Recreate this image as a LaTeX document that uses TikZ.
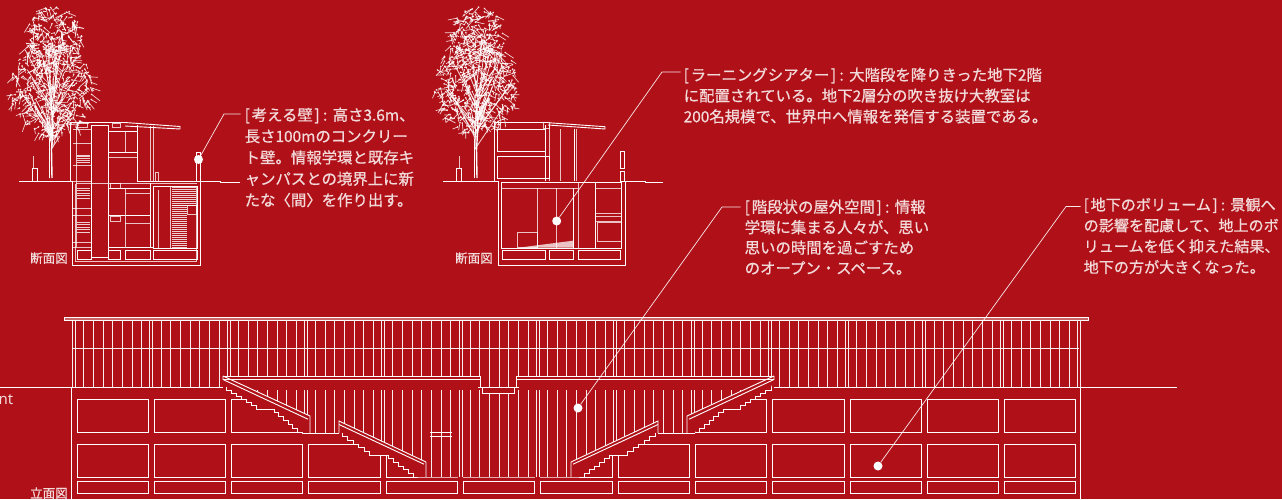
\documentclass[tikz,border=0pt]{standalone}
\usepackage{fontspec}
\newfontfamily\jp{Noto Sans CJK JP}[UprightFeatures={FakeBold=0.7}]
\newfontfamily\latinsans{Noto Sans}
\definecolor{bgred}{RGB}{176,17,24}
\definecolor{txt}{RGB}{242,218,219}

% bracketed heading of a note
\newcommand\opb{[\hspace{0.12em}}
\newcommand\clb{\hspace{0.1em}]\hspace{0.22em}:\hspace{0.35em}}

% stepped underside of a stair flight: from (#1,#2) to (#3,#4) in #5 steps
\newcommand\stairpath[5]{%
  \pgfmathsetmacro\stdx{(#3-#1)/#5}%
  \pgfmathsetmacro\stdy{(#4-#2)/#5}%
  \draw[wl] (#1,#2) \foreach \q in {1,...,#5}{ -- ++(0,\stdy) -- ++(\stdx,0) };}

% mullions of the curtain wall between heights #1 and #2
\newcommand\mullions[2]{%
  \foreach \k in {0,...,12}{\foreach \j in {1,...,7}{%
    \draw[mull] ({74+77.3*\k+9.66*\j},#1) -- ({74+77.3*\k+9.66*\j},#2);}}%
  \foreach \k in {0,...,13}{%
    \draw[mull] ({74+77.3*\k-1.5},#1) -- ({74+77.3*\k-1.5},#2)
                ({74+77.3*\k+1.5},#1) -- ({74+77.3*\k+1.5},#2);}}

% one half of the sunken court: deck and two stair flights
\newcommand\halfcourt{%
  \draw[wl] (223,376) -- (480.5,376) -- (480.5,387.3);
  \draw[wl] (223,379.5) -- (480.5,379.5);
  % upper flight
  \draw[wl] (223,376) -- (310,416) -- (310,433);
  \draw[wl] (223,376) -- (223,379.5) -- (308,419.2);
  \stairpath{226}{387}{262}{409}{7}
  \draw[wl] (262,409) -- (274,409);
  \stairpath{274}{409}{302}{432}{6}
  \draw[wl] (302,433) -- (339,433);
  % lower flight
  \draw[wl] (339,433) -- (339,421) -- (426,462) -- (426,477);
  \draw[wl] (339,424.5) -- (424,464.2);
  \stairpath{342}{433}{375}{455}{6}
  \draw[wl] (375,455) -- (388,455);
  \stairpath{388}{455}{418}{477}{6}
}

% scribbled crown of a tree
\newcommand\treecrown[5]{%
  \foreach \i in {1,...,#5}{%
    \pgfmathsetmacro\twr{sqrt(rnd)}%
    \pgfmathsetmacro\twt{rnd*360}%
    \pgfmathsetmacro\twx{#1+#3*\twr*cos(\twt)}%
    \pgfmathsetmacro\twy{#2+#4*\twr*sin(\twt)}%
    \pgfmathsetmacro\twa{rnd*180}%
    \pgfmathsetmacro\twl{2+rnd*9}%
    \draw[twig] (\twx,\twy) -- ++(\twa:\twl);
    \fill[white,opacity=0.85] (\twx,\twy) circle (0.9);
  }}
\newcommand\treebranches[3]{% trunk x, lowest fork y, number
  \foreach \i in {1,...,#3}{%
    \pgfmathsetmacro\twx{#1+rand*2.5}%
    \pgfmathsetmacro\twy{#2-rnd*60}%
    \pgfmathsetmacro\twa{270+rand*40}%
    \pgfmathsetmacro\twl{15+rnd*45}%
    \draw[twig,line width=0.8pt] (\twx,\twy) -- ++(\twa:\twl);
  }}

\begin{document}
\begin{tikzpicture}[x=1pt,y=-1pt,
  wl/.style={draw=white,line width=0.9pt},
  mull/.style={draw=white,line width=0.8pt,opacity=0.93},
  sec/.style={draw=white,line width=0.9pt},
  secl/.style={draw=white,line width=0.6pt,opacity=0.75},
  hatchl/.style={draw=white,line width=0.6pt,opacity=0.8},
  twig/.style={draw=white,line width=0.65pt,opacity=0.85},
  lead/.style={draw=white,line width=0.7pt,opacity=0.9},
  dot/.style={circle,fill=white,inner sep=0pt,minimum size=9pt},
  note/.style={anchor=north west,inner sep=0pt,align=left,text=txt},
  tag/.style={inner sep=0pt,text=txt,font=\jp\fontsize{12.5}{13}\selectfont}]
\fill[bgred] (0,0) rectangle (1282,499);
\useasboundingbox (0,0) rectangle (1282,499);
\clip (0,0) rectangle (1282,499);

% ---------------- trees ----------------
\pgfmathsetseed{11}
\treecrown{52}{88}{42}{48}{420}
\treecrown{54}{40}{28}{34}{200}
\treebranches{52}{150}{30}
\draw[white,line width=1.4pt] (52,178) -- (51.5,150) -- (53,125) -- (51,100);
\draw[white,line width=0.7pt] (49.5,178) -- (49.5,140) -- (47,118);
\treecrown{476}{86}{42}{48}{420}
\treecrown{478}{40}{28}{34}{200}
\treebranches{477}{150}{30}
\draw[white,line width=1.4pt] (477,178) -- (476.5,150) -- (478,125) -- (476,100);
\draw[white,line width=0.7pt] (474.5,178) -- (474.5,140) -- (472,118);

% ---------------- section 1 ----------------
\draw[sec] (19,181) -- (72,181);
\draw[sec] (137,181) -- (220,181) -- (220,182.5) -- (240,182.5);
\draw[secl] (33.5,156) -- (33.5,168);
\draw[sec] (32,168) rectangle (37,181);
\draw[sec] (70,181) -- (70,122.5) -- (125,122.5);
\draw[secl] (77,123) rectangle (87,127);
\draw[secl] (112,123) rectangle (120,127);
\draw[sec] (125,122.5) -- (180,126.5) -- (180,129) -- (125,126);
\draw[sec] (91,125) rectangle (108,257);
\draw[secl] (76.5,128) -- (76.5,247);
\foreach \yy in {129,143,165,181,208,215,242,247}{\draw[secl] (73,\yy) -- (91,\yy);}
\foreach \ya/\yb in {155/162,188/198,222/232}{%
  \foreach \q in {0,...,4}{\draw[hatchl] (77,{\ya+(\yb-\ya)*\q/4}) -- (90,{\ya+(\yb-\ya)*\q/4});}}
\draw[sec] (108,131) -- (137,131);
\draw[sec] (137,125) -- (137,181);
\draw[secl] (125,131) -- (125,152);
\draw[sec] (108,152) -- (137,152);
\draw[secl] (108,157) -- (137,157);
\draw[secl] (150,126) -- (150,181);
\draw[secl] (153,126) -- (153,181);
\draw[secl] (155.5,172) rectangle (158,181);
\draw[sec] (72,181) -- (72,265) -- (200,265) -- (200,181);
\draw[secl] (75.5,183.5) -- (75.5,261.5) -- (196.5,261.5) -- (196.5,186);
\draw[secl] (75.5,183.5) -- (196.5,183.5);
\draw[sec] (108,188) -- (150,188);
\draw[secl] (125,188) -- (125,247);
\draw[secl] (125,193) -- (150,193);
\draw[sec] (108,215) -- (150,215);
\draw[secl] (125,223) -- (150,223);
\draw[sec] (150,183) -- (150,247);
\draw[sec] (108,247) -- (153,247);
\draw[secl] (110,183) rectangle (120,188);
\draw[secl] (110,216) rectangle (120,221);
\draw[sec] (153,186) rectangle (197,248);
\draw[secl] (158,190) -- (158,248);
\draw[secl] (170,186) -- (170,248);
\foreach \q in {0,...,9}{\draw[hatchl] (171.5,{187+2*\q}) -- (196,{187+2*\q});}
\foreach \q in {0,...,21}{\draw[hatchl] (171.5,{205+2*\q}) -- (186.5,{205+2*\q});}
\draw[secl] (187,205) rectangle (196,214);
\foreach \xa/\xb in {77/91,108/120,125/150,153/197}{\draw[sec] (\xa,250) rectangle (\xb,259);}
\draw[sec] (196.5,152) rectangle (200.5,181);

% ---------------- section 2 ----------------
\draw[sec] (443,181) -- (498,181);
\draw[sec] (625,181) -- (645,181) -- (645,182.5) -- (663,182.5);
\draw[secl] (459,156) -- (459,168);
\draw[sec] (456.5,168) rectangle (461.5,181);
\draw[sec] (494,181) -- (494,122.7) -- (548,122.7);
\draw[secl] (494,122.7) rectangle (500,129);
\draw[secl] (543,122.7) rectangle (549,128);
\draw[sec] (548,122.7) -- (605,126.7) -- (605,129) -- (548,125);
\draw[sec] (497,129.3) rectangle (545,151.7);
\draw[sec] (497,156.7) rectangle (549,178.3);
\draw[sec] (545,125) -- (545,181);
\draw[secl] (549,125) -- (549,181);
\draw[secl] (560.7,129) -- (560.7,181);
\draw[sec] (574,129) -- (574,181);
\draw[secl] (576.7,129) -- (576.7,181);
\draw[sec] (620.7,151.7) rectangle (624,168.3);
\draw[sec] (620.7,171.7) rectangle (624,181);
\draw[sec] (498.3,181) -- (498.3,265) -- (625,265) -- (625,181);
\draw[sec] (501.7,182.7) rectangle (621.7,248.3);
\draw[secl] (501.7,188.3) -- (578.3,188.3);
\draw[secl] (537.3,188.3) -- (537.3,248.3);
\draw[secl] (556,188.3) -- (556,248.3);
\draw[sec] (573.3,188.3) -- (573.3,248.3);
\draw[secl] (578.3,182.7) -- (578.3,248.3);
\draw[sec] (595.7,182.7) -- (595.7,248.3);
\draw[secl] (595.7,188.3) rectangle (621.7,213.3);
\draw[secl] (595.7,216.7) rectangle (621.7,221.7);
\draw[secl] (597,222) rectangle (621.7,241.7);
\draw[secl] (517.3,232.3) rectangle (537.3,247);
\fill[white,opacity=0.75] (520,247.5) -- (573,240.7) -- (573,247.5) -- cycle;
\foreach \xa/\xb in {502.3/545,549/573.3,578.3/620.7}{\draw[sec] (\xa,250) rectangle (\xb,259.3);}

% ---------------- elevation ----------------
\draw[wl,fill=white,fill opacity=0.35] (64,317) rectangle (1088,320.5);
\mullions{321}{387}
\draw[mull] (72,348.3) -- (1079,348.3);
\draw[wl] (0,387) -- (223,387);
\draw[wl] (774,387) -- (1177,387);
\draw[wl] (71,387) -- (71,499);
\draw[wl] (1080.5,387) -- (1080.5,499);
\foreach \k in {0,...,12}{%
  \draw[wl] ({77+77.3*\k},399) rectangle ({148.3+77.3*\k},432);
  \draw[wl] ({77+77.3*\k},444) rectangle ({148.3+77.3*\k},477);
  \draw[wl] ({77+77.3*\k},481) rectangle ({148.3+77.3*\k},493);}
% the sunken court cuts into the facade
\fill[bgred] (222,376.3) -- (480.5,376.3) -- (480.5,387.5) -- (516.5,387.5) -- (516.5,376.3)
  -- (775,376.3) -- (771,387) -- (735,409) -- (723,409) -- (695,432) -- (687,433.5)
  -- (655,433.5) -- (622,455) -- (609,455) -- (579,477.3) -- (418,477.3) -- (388,455)
  -- (375,455) -- (342,433.5) -- (310,433.5) -- (302,432) -- (274,409) -- (262,409)
  -- (226,387) -- cycle;
\begin{scope}
  \clip (223,376) -- (310,416) -- (310,433) -- (339,433) -- (339,421) -- (426,462)
    -- (426,477) -- (571,477) -- (571,462) -- (658,421) -- (658,433) -- (687,433)
    -- (687,416) -- (774,376) -- cycle;
  \mullions{390}{477}
\end{scope}
\draw[wl,fill=bgred] (482.7,387.3) rectangle (514.3,393.3);
\draw[wl] (478.3,387.3) -- (518.7,387.3);
\halfcourt
\begin{scope}[shift={(997,0)},xscale=-1]
  \halfcourt
\end{scope}
\draw[wl] (430,432.7) -- (452,432.7);
\draw[wl] (430,436) -- (452,436);

% ---------------- notes ----------------
\node[dot] (d1) at (198.5,159.5) {};
\node[dot] (d2) at (556.7,221) {};
\node[dot] (d3) at (578,408) {};
\node[dot] (d4) at (878,466) {};

\node[note,font=\jp\fontsize{15.4}{21.3}\selectfont] (t1) at (244.5,107.5)
  {\opb 考える壁\clb 高さ3.6m、\\長さ100mのコンクリー\\ト壁。情報学環と既存キ\\ャンパスとの境界上に新\\たな〈間〉を作り出す。};
\node[note,font=\jp\fontsize{15.4}{20.8}\selectfont] (t2) at (683.5,67.5)
  {\opb ラーニングシアター\clb 大階段を降りきった地下2階\\に配置されている。地下2層分の吹き抜け大教室は\\200名規模で、世界中へ情報を発信する装置である。};
\node[note,font=\jp\fontsize{15.4}{20.4}\selectfont] (t3) at (744.5,199.5)
  {\opb 階段状の屋外空間\clb 情報\\学環に集まる人々が、思い\\思いの時間を過ごすため\\のオープン・スペース。};
\node[note,font=\jp\fontsize{15.1}{20.8}\selectfont] (t4) at (1083.5,197.5)
  {\opb 地下のボリューム\clb 景観へ\\の影響を配慮して、地上のボ\\リュームを低く抑えた結果、\\地下の方が大きくなった。};

\coordinate (c1) at (224,114);
\coordinate (c2) at (662,72);
\coordinate (c3) at (722,207);
\coordinate (c4) at (1066,206.5);
\draw[lead] (d1) -- (c1) -- ([xshift=-4pt]c1 -| t1.west);
\draw[lead] (d2) -- (c2) -- ([xshift=-3pt]c2 -| t2.west);
\draw[lead] (d3) -- (c3) -- ([xshift=-4pt]c3 -| t3.west);
\draw[lead] (d4) -- (c4) -- ([xshift=-3pt]c4 -| t4.west);

\node[tag,anchor=base west] (s1) at (30,262.8) {断面図};
\node[tag,anchor=base west] (s2) at (455,262.8) {断面図};
\node[tag,anchor=base west] (s3) at (30,497.8) {立面図};
\node[anchor=base east,inner sep=0pt,text=txt,font=\latinsans\fontsize{15}{15}\selectfont] (nt) at (13.5,404.5) {nt};
\end{tikzpicture}
\end{document}
